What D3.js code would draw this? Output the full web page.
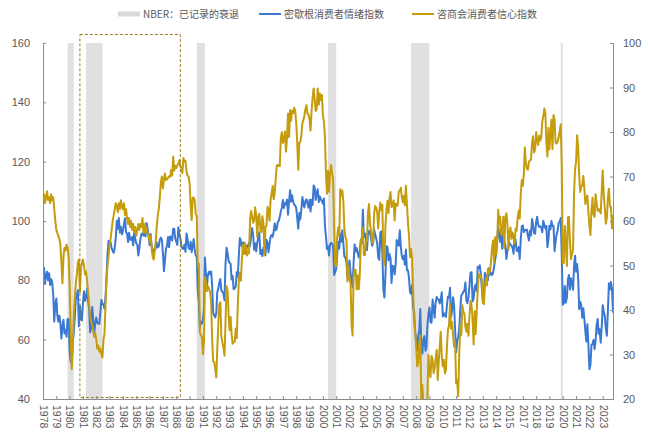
<!DOCTYPE html>
<html>
<head>
<meta charset="utf-8">
<script src="https://cdn.jsdelivr.net/npm/d3@7"></script>
<style>
  body { margin: 0; background: #fff; }
  svg { display: block; }
</style>
</head>
<body>
<svg id="chart" width="648" height="439"></svg>
<script>
// Monthly series, first value = January 1978, last value = May 2024
const startMonth = "1978-01";

// University of Michigan consumer sentiment index
const michigan = [
  83.7, 84.3, 78.8, 81.6, 82.9, 80.0, 82.4, 78.4, 80.4, 79.3, 75.0, 66.1,
  72.1, 73.9, 68.4, 66.0, 68.1, 65.8, 60.4, 64.5, 66.7, 62.1, 63.3, 61.0,
  67.0, 66.9, 56.5, 52.7, 51.7, 58.7, 62.3, 67.3, 73.7, 75.0, 76.7, 64.5,
  71.4, 66.9, 66.5, 72.4, 76.3, 73.1, 74.1, 77.2, 73.1, 70.3, 62.5, 64.3,
  71.0, 66.5, 62.0, 65.5, 67.5, 65.7, 65.4, 65.4, 69.3, 73.4, 72.1, 71.9,
  70.4, 74.6, 80.8, 89.1, 93.3, 92.2, 92.8, 90.9, 89.9, 89.3, 91.1, 94.2,
  100.1, 97.4, 101.0, 96.1, 98.1, 95.5, 96.6, 99.1, 100.9, 96.3, 95.7, 92.9,
  96.0, 93.7, 93.7, 94.6, 91.8, 96.5, 94.0, 92.4, 92.1, 88.4, 90.9, 93.9,
  95.6, 95.9, 95.1, 96.2, 94.8, 99.3, 97.7, 94.9, 91.9, 95.6, 91.4, 89.1,
  90.4, 90.2, 90.8, 92.8, 91.1, 91.5, 93.7, 94.4, 93.6, 89.3, 83.1, 86.8,
  90.8, 91.6, 94.6, 91.2, 94.8, 94.7, 93.4, 97.4, 97.3, 94.1, 93.0, 91.9,
  97.9, 95.4, 94.3, 91.5, 90.7, 90.6, 92.0, 89.6, 95.8, 93.9, 90.9, 90.5,
  93.0, 89.5, 91.3, 93.9, 90.6, 88.3, 88.2, 76.4, 72.8, 63.9, 66.0, 65.5,
  66.8, 70.4, 87.7, 81.8, 78.3, 82.1, 82.9, 82.0, 83.0, 78.3, 69.1, 68.2,
  67.5, 68.8, 76.0, 77.2, 79.2, 80.4, 76.6, 76.1, 75.6, 73.3, 85.3, 91.0,
  89.3, 86.6, 85.9, 85.6, 80.3, 81.5, 77.0, 77.3, 77.9, 82.7, 81.2, 88.2,
  94.3, 93.2, 91.5, 92.6, 92.8, 91.2, 89.0, 91.7, 91.5, 92.7, 91.6, 95.1,
  97.6, 95.1, 90.3, 92.5, 89.8, 92.7, 94.4, 96.2, 88.9, 90.2, 88.2, 91.0,
  89.3, 88.5, 93.7, 92.7, 89.4, 92.4, 94.7, 95.3, 94.7, 96.5, 99.2, 96.9,
  97.4, 99.7, 100.0, 101.4, 103.2, 104.5, 107.1, 104.4, 106.0, 105.6, 107.2, 102.1,
  106.6, 110.4, 106.5, 108.7, 106.5, 105.6, 105.2, 104.4, 100.9, 97.4, 102.7, 100.5,
  103.9, 108.1, 105.7, 104.6, 106.8, 107.3, 106.0, 104.5, 107.2, 103.2, 107.2, 105.4,
  112.0, 111.3, 107.1, 109.2, 110.7, 106.4, 108.3, 107.3, 106.8, 105.8, 107.6, 98.4,
  94.7, 90.6, 91.5, 88.4, 92.0, 92.6, 92.4, 91.5, 81.8, 82.7, 83.9, 88.8,
  93.0, 90.7, 95.7, 93.0, 96.9, 92.4, 88.1, 87.6, 86.1, 80.6, 84.2, 86.7,
  82.4, 79.9, 77.6, 86.0, 92.1, 89.7, 90.9, 89.3, 87.7, 89.6, 93.7, 92.6,
  103.8, 94.4, 95.8, 94.2, 90.2, 95.6, 96.7, 95.9, 94.2, 91.7, 92.8, 97.1,
  95.5, 94.1, 92.6, 87.7, 86.9, 96.0, 96.5, 89.1, 76.9, 74.2, 81.6, 91.5,
  91.2, 86.7, 88.9, 87.4, 79.1, 84.9, 84.7, 82.0, 85.4, 93.6, 92.1, 91.7,
  96.9, 91.3, 88.4, 87.1, 88.3, 85.3, 90.4, 83.4, 83.4, 80.9, 76.1, 75.5,
  78.4, 70.8, 69.5, 62.6, 59.8, 56.4, 61.2, 63.0, 70.3, 57.6, 55.3, 60.1,
  61.2, 56.3, 57.3, 65.1, 68.7, 70.8, 66.0, 65.7, 73.5, 70.6, 67.4, 72.5,
  74.4, 73.6, 73.6, 72.2, 73.6, 76.0, 67.8, 68.9, 68.2, 67.7, 71.6, 74.5,
  74.2, 77.5, 67.5, 69.8, 74.3, 71.5, 63.7, 55.8, 59.5, 60.8, 63.7, 69.9,
  75.0, 75.3, 76.2, 76.4, 79.3, 73.2, 72.3, 74.3, 78.3, 82.6, 82.7, 72.9,
  73.8, 77.6, 78.6, 76.4, 84.5, 84.1, 85.1, 82.1, 77.5, 73.2, 75.1, 82.5,
  81.2, 81.6, 80.0, 84.1, 81.9, 82.5, 81.8, 82.5, 84.6, 86.9, 88.8, 93.6,
  98.1, 95.4, 93.0, 95.9, 90.7, 96.1, 93.1, 91.9, 87.2, 90.0, 91.3, 92.6,
  92.0, 91.7, 91.0, 89.0, 94.7, 93.5, 90.0, 89.8, 91.2, 87.2, 93.8, 98.2,
  98.5, 96.3, 96.9, 97.0, 97.1, 95.0, 93.4, 96.8, 95.1, 100.7, 98.5, 95.9,
  95.7, 99.7, 101.4, 98.8, 98.0, 98.2, 97.9, 96.2, 100.1, 98.6, 97.5, 98.3,
  91.2, 93.8, 98.4, 97.2, 100.0, 98.2, 98.4, 89.8, 93.2, 95.5, 96.8, 99.3,
  99.8, 101.0, 89.1, 71.8, 72.3, 78.1, 72.5, 74.1, 80.4, 81.8, 76.9, 80.7,
  79.0, 76.8, 84.9, 88.3, 82.9, 85.5, 81.2, 70.3, 72.8, 71.7, 67.4, 70.6,
  67.2, 62.8, 59.4, 65.2, 58.4, 50.0, 51.5, 58.2, 58.6, 59.9, 56.8, 59.7,
  64.9, 67.0, 62.0, 63.5, 59.0, 64.2, 71.6, 69.5, 67.9, 63.8, 61.3, 69.7,
  79.0, 76.9, 79.4, 77.2, 69.1
];

// Conference Board consumer confidence index
const conferenceBoard = [
  107, 109, 106, 108, 110, 107, 108, 106, 109, 107, 108, 104,
  100, 97, 96, 95, 94, 92, 86, 79, 88, 91, 90, 92,
  91, 88, 78, 64, 50, 57, 68, 74, 79, 82, 86, 87,
  76, 84, 86, 87, 85, 82, 83, 80, 76, 72, 68, 66,
  65, 63, 61, 62, 60, 57, 58, 56, 57, 55, 54, 60,
  62, 72, 80, 85, 88, 92, 94, 97, 100, 102, 104, 106,
  105, 103, 106, 104, 107, 105, 104, 106, 102, 104, 101, 99,
  101, 98, 100, 97, 99, 96, 98, 95, 97, 99, 97, 99,
  98, 101, 96, 99, 96, 98, 96, 95, 93, 95, 91, 88,
  87, 90, 93, 98, 102, 104, 108, 113, 115, 111, 114, 116,
  113.8, 114.1, 114.5, 115.1, 114.9, 117.2, 115.3, 121.7, 117.0, 118.6, 117.8, 118.9,
  119.2, 120.5, 118.4, 117.9, 116.1, 121.2, 120.0, 120.3, 116.6, 115.3, 115.0, 112.7,
  105.3, 100.3, 107.8, 107.9, 107.0, 102.4, 101.7, 84.7, 85.6, 62.6, 61.3, 61.2,
  55.1, 59.4, 81.1, 79.4, 76.4, 78.0, 77.0, 76.1, 72.9, 60.1, 52.7, 52.5,
  50.2, 47.3, 56.5, 65.1, 71.9, 72.6, 61.2, 59.0, 57.3, 54.6, 65.6, 78.1,
  76.7, 68.5, 63.2, 67.6, 61.9, 58.6, 59.2, 59.3, 63.8, 60.5, 71.9, 79.8,
  82.6, 79.9, 86.7, 92.1, 88.9, 92.5, 91.3, 88.4, 89.5, 89.1, 100.4, 103.4,
  101.4, 99.4, 100.2, 104.6, 102.0, 94.6, 101.4, 102.4, 97.3, 96.3, 101.6, 99.2,
  88.4, 98.0, 98.4, 104.8, 103.5, 100.1, 107.0, 109.4, 111.8, 107.3, 109.5, 114.2,
  118.7, 118.9, 118.5, 118.5, 127.9, 129.9, 126.3, 127.6, 130.2, 123.4, 128.1, 136.2,
  128.3, 137.4, 133.8, 137.2, 136.3, 138.2, 137.2, 133.1, 126.4, 117.3, 126.4, 126.7,
  128.9, 133.1, 134.0, 135.5, 137.7, 139.0, 136.2, 136.0, 134.2, 130.5, 137.0, 141.7,
  144.7, 140.8, 137.1, 137.7, 144.7, 139.2, 143.0, 140.8, 142.5, 135.8, 133.5, 128.6,
  115.7, 109.2, 116.9, 109.9, 116.1, 118.9, 116.3, 114.0, 97.0, 85.3, 84.9, 94.6,
  97.8, 95.0, 110.7, 108.5, 110.3, 106.3, 97.4, 94.5, 93.7, 79.6, 84.9, 80.7,
  78.8, 64.8, 61.4, 81.0, 83.6, 83.5, 77.0, 81.7, 77.0, 81.7, 92.5, 94.8,
  97.7, 88.5, 88.5, 93.0, 93.1, 102.8, 105.7, 98.7, 96.7, 92.9, 92.6, 102.7,
  105.1, 104.4, 103.0, 97.5, 103.1, 106.2, 103.6, 105.5, 87.5, 85.2, 98.3, 103.8,
  106.8, 102.7, 107.5, 109.8, 104.7, 105.4, 107.0, 100.2, 105.9, 105.1, 105.3, 110.0,
  110.2, 111.2, 108.2, 106.3, 108.5, 105.3, 111.9, 105.6, 99.5, 95.2, 87.8, 90.6,
  87.3, 76.4, 65.9, 62.8, 58.1, 51.0, 51.9, 58.5, 61.4, 38.8, 44.7, 38.6,
  37.4, 25.3, 26.9, 40.8, 54.8, 49.3, 47.4, 54.5, 53.4, 48.7, 50.6, 53.6,
  56.5, 46.4, 52.3, 57.7, 62.7, 54.3, 51.0, 53.2, 48.6, 49.9, 57.8, 63.4,
  64.8, 72.0, 63.8, 66.0, 61.7, 57.6, 59.2, 45.2, 46.4, 40.9, 55.2, 64.8,
  61.5, 71.6, 69.5, 68.7, 64.4, 62.7, 65.4, 61.3, 68.4, 73.1, 71.5, 66.7,
  58.4, 69.6, 61.9, 69.0, 76.2, 82.1, 81.0, 81.8, 80.2, 72.4, 72.0, 77.5,
  80.7, 78.3, 83.9, 82.3, 83.0, 86.4, 90.9, 93.4, 86.0, 94.5, 88.7, 93.1,
  103.8, 98.8, 101.4, 95.4, 95.4, 101.4, 90.9, 101.3, 102.6, 99.1, 90.4, 96.5,
  97.8, 94.0, 96.1, 94.7, 92.4, 97.4, 96.7, 101.1, 103.5, 100.8, 109.4, 113.7,
  111.8, 116.1, 124.9, 119.4, 117.6, 117.3, 120.0, 120.4, 120.6, 126.2, 128.6, 123.1,
  124.3, 130.0, 127.0, 125.6, 128.8, 127.1, 127.9, 133.4, 135.3, 137.9, 136.4, 126.6,
  121.7, 131.4, 124.2, 129.2, 134.1, 124.3, 135.7, 134.2, 126.3, 126.1, 126.8, 128.2,
  130.4, 132.6, 118.8, 85.7, 85.9, 98.3, 91.7, 84.8, 101.3, 101.4, 92.9, 87.1,
  88.9, 90.4, 109.0, 117.5, 120.0, 128.9, 125.1, 115.2, 109.8, 111.6, 111.9, 115.2,
  111.1, 105.7, 107.6, 108.6, 103.2, 98.4, 95.3, 103.6, 107.8, 102.2, 101.4, 109.0,
  106.0, 103.4, 104.0, 103.7, 102.5, 110.1, 117.0, 108.7, 104.3, 99.1, 101.0, 108.0,
  110.9, 104.8, 104.7, 97.5, 102.0
];

// NBER recession periods (start month, end month)
const recessions = [
  ["1980-01", "1980-07"],
  ["1981-07", "1982-11"],
  ["1990-07", "1991-03"],
  ["2001-03", "2001-11"],
  ["2007-12", "2009-06"],
  ["2020-02", "2020-04"]
];

// Highlighted period framed by a dashed box
const highlightPeriod = ["1981-01", "1989-03"];

// Category ticks every 13 months, labelled with the year
const xTickDates = [
  "1978-01", "1979-02", "1980-03", "1981-04", "1982-05", "1983-06", "1984-07",
  "1985-08", "1986-09", "1987-10", "1988-11", "1989-12", "1991-01", "1992-02",
  "1993-03", "1994-04", "1995-05", "1996-06", "1997-07", "1998-08", "1999-09",
  "2000-10", "2001-11", "2002-12", "2004-01", "2005-02", "2006-03", "2007-04",
  "2008-05", "2009-06", "2010-07", "2011-08", "2012-09", "2013-10", "2014-11",
  "2015-12", "2017-01", "2018-02", "2019-03", "2020-04", "2021-05", "2022-06",
  "2023-07"
];

const leftTicks = [40, 60, 80, 100, 120, 140, 160];
const rightTicks = [20, 30, 40, 50, 60, 70, 80, 90, 100];

const legendLabels = ["NBER：已记录的衰退", "密歇根消费者情绪指数", "咨商会消费者信心指数"];

// ---- drawing ----
const parseMonth = d3.timeParse("%Y-%m");
const start = parseMonth(startMonth);
const toSeries = arr => arr.map((v, i) => ({ date: d3.timeMonth.offset(start, i), value: v }));
const blueData = toSeries(michigan);
const goldData = toSeries(conferenceBoard);
const lastDate = blueData[blueData.length - 1].date;

const margin = { left: 43, right: 35, top: 43, bottom: 40 };
const W = 648, H = 439;
const plotW = W - margin.left - margin.right;
const plotH = H - margin.top - margin.bottom;

const blue = "#3a78d2";
const gold = "#c59c0c";
const axisColor = "#8c8c8c";
const labelColor = "#595959";

const svg = d3.select("#chart");
const g = svg.append("g").attr("transform", `translate(${margin.left},${margin.top})`);

const x = d3.scaleTime().domain([start, lastDate]).range([0, plotW]);
const yL = d3.scaleLinear().domain([40, 160]).range([plotH, 0]);
const yR = d3.scaleLinear().domain([20, 100]).range([plotH, 0]);

svg.append("defs").append("clipPath").attr("id", "plotClip")
  .append("rect").attr("x", 0).attr("y", 0).attr("width", plotW).attr("height", plotH);

// recession shading
g.append("g").selectAll("rect").data(recessions).join("rect")
  .attr("x", d => x(parseMonth(d[0])))
  .attr("width", d => Math.max(2, x(parseMonth(d[1])) - x(parseMonth(d[0]))))
  .attr("y", 0).attr("height", plotH)
  .attr("fill", "#e0e0e0");

// series lines
const line = d3.line().x(d => x(d.date)).y(d => yL(d.value));
const lines = g.append("g").attr("clip-path", "url(#plotClip)");
lines.append("path").datum(blueData).attr("d", line)
  .attr("fill", "none").attr("stroke", blue).attr("stroke-width", 2).attr("stroke-linejoin", "round");
lines.append("path").datum(goldData).attr("d", line)
  .attr("fill", "none").attr("stroke", gold).attr("stroke-width", 2).attr("stroke-linejoin", "round");

// dashed highlight frame
const hx0 = x(parseMonth(highlightPeriod[0]));
const hx1 = x(parseMonth(highlightPeriod[1]));
g.append("rect")
  .attr("x", hx0).attr("y", -8.5)
  .attr("width", hx1 - hx0).attr("height", plotH + 7)
  .attr("fill", "none").attr("stroke", "#9c7d22").attr("stroke-width", 1)
  .attr("stroke-dasharray", "3,2");

// left axis
const leftAxis = g.append("g").call(d3.axisLeft(yL).tickValues(leftTicks).tickSize(-3).tickPadding(13));
// right axis
const rightAxis = g.append("g").attr("transform", `translate(${plotW},0)`)
  .call(d3.axisRight(yR).tickValues(rightTicks).tickSize(-3).tickPadding(10));
// bottom axis
const xTicks = xTickDates.map(parseMonth);
const bottomAxis = g.append("g").attr("transform", `translate(0,${plotH})`)
  .call(d3.axisBottom(x).tickValues(xTicks).tickSize(-3).tickFormat(d3.timeFormat("%Y")));

[leftAxis, rightAxis, bottomAxis].forEach(a => {
  a.select(".domain").attr("stroke", axisColor);
  a.selectAll(".tick line").attr("stroke", axisColor);
  a.selectAll("text").attr("fill", labelColor)
    .style("font-family", "'Liberation Sans', Arial, sans-serif").style("font-size", "11px");
});
bottomAxis.selectAll(".tick text")
  .attr("transform", "translate(0,6) rotate(90)")
  .attr("x", 0).attr("y", 0).attr("dy", "0.35em")
  .style("text-anchor", "start").style("font-size", "10.5px");

// legend
const legend = svg.append("g").style("font-family", "'Noto Sans CJK SC', sans-serif").style("font-size", "10px");
const legendItems = [
  { x: 118, kind: "box", color: "#d9d9d9", label: legendLabels[0] },
  { x: 259, kind: "line", color: blue, label: legendLabels[1] },
  { x: 412, kind: "line", color: gold, label: legendLabels[2] }
];
legendItems.forEach(it => {
  if (it.kind === "box") {
    legend.append("rect").attr("x", it.x).attr("y", 11.5).attr("width", 22).attr("height", 5).attr("fill", it.color);
  } else {
    legend.append("line").attr("x1", it.x).attr("x2", it.x + 22).attr("y1", 14).attr("y2", 14)
      .attr("stroke", it.color).attr("stroke-width", 2);
  }
  legend.append("text").attr("x", it.x + 25).attr("y", 14).attr("dy", "0.35em")
    .attr("fill", "#595959").text(it.label);
});
</script>
</body>
</html>
